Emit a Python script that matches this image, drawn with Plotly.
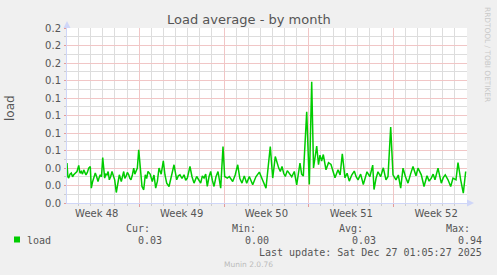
import pandas as pd
import plotly.graph_objects as go

# ---------------- data ----------------
period_start = "2025-11-24 01:05:27"
period_end = "2025-12-27 01:05:27"

hours = [0, 1.7, 3.4, 6.0, 8.5, 11, 13.3, 16.5, 19.8, 23.2, 25.8, 28.3, 30.7, 33.1, 35.3,
         37.6, 40.3, 43.0, 46.1, 48.1, 50.5, 52.9, 56.0, 58.7, 61.4, 63.6, 65.9, 68.3, 70.7,
         74.6, 76.9, 79.2, 81.5, 83.8, 86.4, 89.1, 91.7, 94.4, 97.6, 100.6, 103.6, 107.5,
         110, 112.3, 114.5, 116.8, 119.5, 122.2, 124.5, 126.7, 129.4, 132.1, 134.3, 136.6,
         139.3, 142.0, 145.9, 148.5, 151.9, 155.0, 157.7, 160.4, 164.6, 168.9, 172.2, 175.6,
         179, 182.2, 186.5, 190.7, 194, 197.4, 202.0, 207, 211.9, 217.2, 220.4, 223.7, 227.7,
         231.7, 235, 238.2, 243.5, 247.5, 251.5, 256.8, 260.8, 264.7, 268, 271.3, 274.6,
         277.8, 281.2, 284.5, 287.8, 291.1, 295, 299.0, 304.3, 308.9, 312.2, 317.4, 321.4,
         324.7, 328.1, 333, 338.0, 342.3, 346.5, 351, 355.8, 361.0, 364.3, 367.7, 374, 380.8,
         387.4, 394.0, 402.5, 407.3, 412.4, 415.8, 419.2, 422.4, 425.7, 429, 432.2, 436.2,
         440.2, 445, 450.1, 454.8, 461.3, 464.6, 467.9, 474.6, 479.8, 484.5, 488.1, 494.4,
         498.0, 500.9, 504.2, 507.5, 512.8, 517.8, 522.7, 526.6, 530.6, 536.6, 540.8, 545.1,
         550.4, 554.6, 558.9, 563.8, 568.8, 572.5, 576.2, 581.4, 586.7, 594.0, 599.6, 605.3,
         607.9, 611.8, 615.8, 621, 626.3, 631.6, 635.6, 640.9, 645.5, 651.4, 656, 660.7,
         665.3, 670.2, 675.2, 680.2, 685.1, 691.0, 695.0, 701.5, 706.9, 712.8, 717, 721.3,
         725, 728.6, 734.6, 741.1, 745, 749.0, 754.4, 759.7, 764.3, 770.2, 774.2, 779.5,
         784.7, 789.4]

load = [0.0456, 0.0300, 0.0285, 0.0330, 0.0342, 0.0300, 0.0322, 0.0345, 0.0360, 0.0429,
        0.0340, 0.0360, 0.0330, 0.0379, 0.0350, 0.0322, 0.0350, 0.0399, 0.0417, 0.0170,
        0.0240, 0.0285, 0.0342, 0.0300, 0.0246, 0.0290, 0.0322, 0.0300, 0.0520, 0.0285,
        0.0330, 0.0322, 0.0360, 0.0265, 0.0300, 0.0360, 0.0320, 0.0265, 0.0120, 0.0250,
        0.0322, 0.0246, 0.0300, 0.0360, 0.0280, 0.0303, 0.0350, 0.0322, 0.0280, 0.0265,
        0.0320, 0.0399, 0.0330, 0.0360, 0.0400, 0.0608, 0.0360, 0.0189, 0.0151, 0.0322,
        0.0280, 0.0360, 0.0330, 0.0246, 0.0320, 0.0170, 0.0250, 0.0399, 0.0330, 0.0482,
        0.0320, 0.0227, 0.0189, 0.0300, 0.0437, 0.0265, 0.0310, 0.0322, 0.0280, 0.0322,
        0.0260, 0.0285, 0.0417, 0.0300, 0.0227, 0.0303, 0.0260, 0.0227, 0.0310, 0.0285,
        0.0330, 0.0189, 0.0300, 0.0360, 0.0260, 0.0189, 0.0300, 0.0360, 0.0170, 0.0646,
        0.0303, 0.0285, 0.0303, 0.0270, 0.0246, 0.0320, 0.0437, 0.0280, 0.0227, 0.0310,
        0.0227, 0.0303, 0.0260, 0.0208, 0.0300, 0.0353, 0.0260, 0.0170, 0.0646, 0.0285,
        0.0531, 0.0450, 0.0399, 0.0360, 0.0417, 0.0340, 0.0303, 0.0370, 0.0342, 0.0300,
        0.0360, 0.0208, 0.0456, 0.0330, 0.0307, 0.1042, 0.0211, 0.1385, 0.0400, 0.0650,
        0.0437, 0.0547, 0.0480, 0.0554, 0.0379, 0.0460, 0.0440, 0.0350, 0.0288, 0.0379,
        0.0320, 0.0562, 0.0288, 0.0340, 0.0250, 0.0320, 0.0365, 0.0300, 0.0265, 0.0330,
        0.0211, 0.0357, 0.0300, 0.0433, 0.0154, 0.0280, 0.0357, 0.0300, 0.0402, 0.0265,
        0.0303, 0.0867, 0.0322, 0.0265, 0.0320, 0.0170, 0.0399, 0.0300, 0.0227, 0.0330,
        0.0417, 0.0311, 0.0399, 0.0322, 0.0189, 0.0311, 0.0250, 0.0285, 0.0330, 0.0265,
        0.0399, 0.0227, 0.0290, 0.0322, 0.0265, 0.0189, 0.0285, 0.0265, 0.0463, 0.0265,
        0.0113, 0.0360]

week_starts = ["2025-11-30", "2025-12-07", "2025-12-14", "2025-12-21"]
week_centers = ["2025-11-26 12:00", "2025-12-03 12:00", "2025-12-10 12:00",
                "2025-12-17 12:00", "2025-12-24 12:00"]
week_labels = ["Week 48", "Week 49", "Week 50", "Week 51", "Week 52"]
y_ticks = [0, 0.02, 0.04, 0.06, 0.08, 0.10, 0.12, 0.14, 0.16, 0.18, 0.20]
y_minor = [0.01, 0.03, 0.05, 0.07, 0.09, 0.11, 0.13, 0.15, 0.17, 0.19]

legend_cur, legend_min, legend_avg, legend_max = "0.03", "0.00", "0.03", "0.94"
last_update = "Last update: Sat Dec 27 01:05:27 2025"

# ---------------- styling ----------------
W, H = 497, 275
L, R, T, B = 67, 467, 28, 203
FONT = "DejaVu Sans"
MONO = "DejaVu Sans Mono"
TXT = "#555555"
MGRID = "#F1C6C6"
GRID = "#DDDDDD"
AXIS = "#CFD6F8"

def px(x):
    return (x - L) / (R - L)

def py(y):
    return (B - y) / (B - T)

times = pd.Timestamp(period_start) + pd.to_timedelta(hours, unit="h")
day_lines = [d for d in pd.date_range("2025-11-25", "2025-12-26", freq="D")
             if d.dayofweek != 6]

fig = go.Figure()
fig.add_trace(go.Scatter(x=times, y=load, mode="lines",
                         line=dict(color="#00CC00", width=1.5),
                         showlegend=False, hoverinfo="skip"))
# empty traces that bring the overlay grid/label axes into existence
for xa, ya in (("x2", "y"), ("x3", "y"), ("x", "y2")):
    fig.add_trace(go.Scatter(x=[], y=[], xaxis=xa, yaxis=ya,
                             showlegend=False, hoverinfo="skip"))

xr = [period_start, period_end]
fig.update_layout(
    width=W, height=H,
    margin=dict(l=L, r=W - R, t=T, b=H - B, pad=0),
    paper_bgcolor="#F0F0F0", plot_bgcolor="#FFFFFF",
    font=dict(family=FONT, size=10, color=TXT),
    # daily minor grid (gray)
    xaxis=dict(type="date", range=xr, tickmode="array", tickvals=day_lines,
               showticklabels=False, showgrid=True, gridcolor=GRID,
               gridwidth=1, ticks="outside", ticklen=2, tickcolor="#CCCCCC",
               showline=True, linecolor=AXIS, linewidth=1, zeroline=False),
    # weekly major grid (red)
    xaxis2=dict(type="date", range=xr, overlaying="x", anchor="y", side="bottom",
                tickmode="array", tickvals=week_starts, showticklabels=False,
                showgrid=True, gridcolor=MGRID, gridwidth=1,
                ticks="outside", ticklen=3, tickcolor="#E49A9A",
                zeroline=False, showline=False),
    # week labels
    xaxis3=dict(type="date", range=xr, overlaying="x", anchor="y", side="bottom",
                tickmode="array", tickvals=week_centers, ticktext=week_labels,
                showgrid=False, ticks="", zeroline=False, showline=False,
                tickfont=dict(family=FONT, size=10, color=TXT), ticklabelstandoff=3),
    # major y grid + labels (red)
    yaxis=dict(range=[0, 0.2], tickmode="array", tickvals=y_ticks, tickformat=".1f",
               showgrid=True, gridcolor=MGRID, gridwidth=1,
               ticks="outside", ticklen=2, tickcolor="#E49A9A",
               showline=True, linecolor=AXIS, linewidth=1, zeroline=False,
               tickfont=dict(family=FONT, size=10, color=TXT), ticklabelstandoff=1),
    # minor y grid (gray)
    yaxis2=dict(range=[0, 0.2], overlaying="y", anchor="x", side="left",
                tickmode="array", tickvals=y_minor, showticklabels=False,
                showgrid=True, gridcolor=GRID, gridwidth=1,
                ticks="outside", ticklen=2, tickcolor="#CCCCCC",
                zeroline=False, showline=False),
)

# axis arrows
fig.add_shape(type="path", xref="paper", yref="paper",
              path=f"M {px(63.5)} {py(28)} L {px(70.5)} {py(28)} L {px(67)} {py(21)} Z",
              fillcolor=AXIS, line=dict(width=0))
fig.add_shape(type="path", xref="paper", yref="paper",
              path=f"M {px(467)} {py(199.5)} L {px(467)} {py(206.5)} L {px(474)} {py(203)} Z",
              fillcolor=AXIS, line=dict(width=0))

# legend square
fig.add_shape(type="rect", xref="paper", yref="paper",
              x0=px(14), x1=px(20), y0=py(242.5), y1=py(236.5),
              fillcolor="#00CC00", line=dict(width=0))

def text(x, y, s, anchor="left", size=10, family=FONT, color=TXT, angle=0):
    fig.add_annotation(x=px(x), y=py(y), xref="paper", yref="paper", text=s,
                       showarrow=False, xanchor=anchor, yanchor="middle",
                       textangle=angle, font=dict(family=family, size=size, color=color),
                       borderpad=0)

text(249, 19, "Load average - by month", anchor="center", size=13)
text(10, 108, "load", anchor="center", size=12, angle=-90)
text(488, 54, "RRDTOOL / TOBI OETIKER", anchor="center", size=7.4, color="#C8C8C8", angle=90)

text(26, 240, "load", family=MONO)
text(151, 228, "Cur:", anchor="right", family=MONO)
text(163, 240, legend_cur, anchor="right", family=MONO)
text(257, 228, "Min:", anchor="right", family=MONO)
text(270, 240, legend_min, anchor="right", family=MONO)
text(364, 228, "Avg:", anchor="right", family=MONO)
text(377, 240, legend_avg, anchor="right", family=MONO)
text(471, 228, "Max:", anchor="right", family=MONO)
text(483, 240, legend_max, anchor="right", family=MONO)
text(483, 252, last_update, anchor="right", family=MONO)
text(248, 264, "Munin 2.0.76", anchor="center", size=7.5, color="#BBBBBB")

fig.write_html("out.html", config={"displayModeBar": False})
